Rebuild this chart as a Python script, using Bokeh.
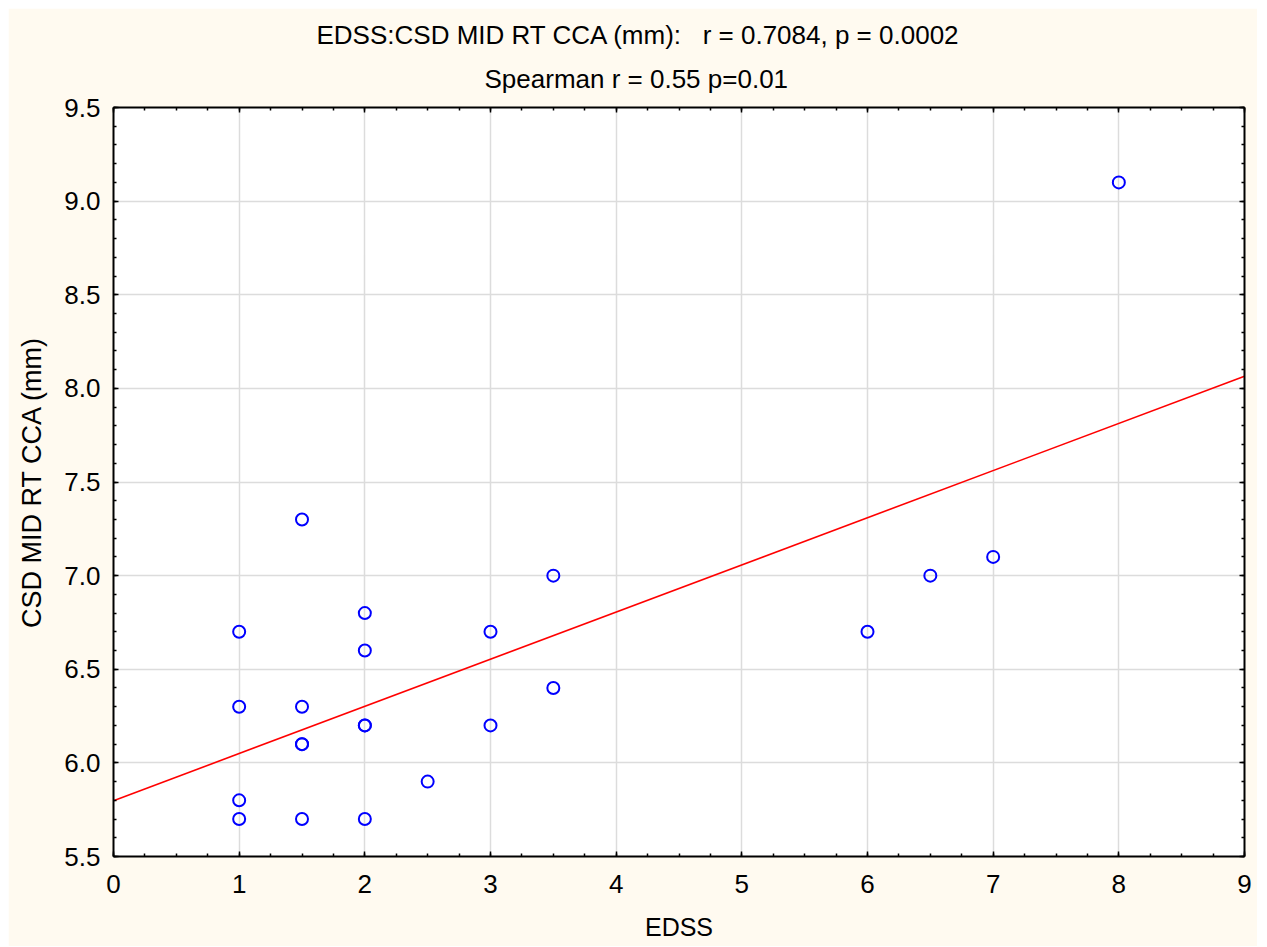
import numpy as np
from bokeh.plotting import figure
from bokeh.models import (LinearAxis, Title, SingleIntervalTicker,
                          CustomJSTickFormatter, PrintfTickFormatter, Range1d)
from bokeh.embed import file_html
from bokeh.resources import INLINE

# ---- data ----
edss = [1, 1, 1, 1,
        1.5, 1.5, 1.5, 1.5, 1.5,
        2, 2, 2, 2, 2,
        2.5,
        3, 3,
        3.5, 3.5,
        6, 6.5, 7, 8]
csd = [6.7, 6.3, 5.8, 5.7,
       7.3, 6.3, 6.1, 6.1, 5.7,
       6.8, 6.6, 6.2, 6.2, 5.7,
       5.9,
       6.7, 6.2,
       7.0, 6.4,
       6.7, 7.0, 7.1, 9.1]
x_limits = [0, 9]
y_limits = [5.5, 9.5]
title_line1 = "EDSS:CSD MID RT CCA (mm):\u00a0\u00a0 r = 0.7084, p = 0.0002"
title_line2 = "Spearman r = 0.55 p=0.01"
x_label = "EDSS"
y_label = "CSD MID RT CCA (mm)"

FONT = "Liberation Sans"
BG = "#FFFAF0"

slope, intercept = np.polyfit(edss, csd, 1)
fit_x = np.array(x_limits, dtype=float)
fit_y = intercept + slope * fit_x

p = figure(width=1249, height=938, output_backend="svg", toolbar_location=None,
           x_range=Range1d(*x_limits), y_range=Range1d(*y_limits),
           min_border_left=105, min_border_right=13, min_border_top=99,
           min_border_bottom=90)
p.margin = (8, 10, 1, 8)
p.background_fill_color = "white"
p.border_fill_color = BG
p.outline_line_color = None

xt = SingleIntervalTicker(interval=1, num_minor_ticks=4)
yt = SingleIntervalTicker(interval=0.5, num_minor_ticks=5)

def style_axis(ax, ticker, labels=True):
    ax.ticker = ticker
    ax.axis_line_color = "black"
    ax.axis_line_width = 2
    ax.major_tick_in = 5
    ax.major_tick_out = 0
    ax.minor_tick_in = 3
    ax.minor_tick_out = 0
    ax.major_tick_line_color = "black"
    ax.major_tick_line_width = 1.5
    ax.minor_tick_line_color = "black"
    ax.minor_tick_line_width = 1.5
    ax.major_label_text_font = FONT
    ax.major_label_text_font_size = "26px"
    ax.major_label_text_color = "black"
    ax.axis_label_text_font = FONT
    ax.axis_label_text_font_style = "normal"
    ax.axis_label_text_color = "black"
    if not labels:
        ax.formatter = CustomJSTickFormatter(code="return ''")
        ax.major_label_standoff = 0

# bottom / left axes
xa = p.xaxis[0]
style_axis(xa, xt)
xa.formatter = PrintfTickFormatter(format="%d")
xa.major_label_standoff = 18
xa.axis_label = x_label
xa.axis_label_text_font_size = "25px"
xa.axis_label_standoff = 17

ya = p.yaxis[0]
style_axis(ya, yt)
ya.formatter = PrintfTickFormatter(format="%.1f")
ya.major_label_standoff = 13
ya.axis_label = y_label
ya.axis_label_text_font_size = "27px"
ya.axis_label_standoff = 14

# top / right axes (ticks only)
top = LinearAxis()
style_axis(top, xt, labels=False)
p.add_layout(top, "above")
right = LinearAxis()
style_axis(right, yt, labels=False)
p.add_layout(right, "right")

p.xgrid.ticker = xt
p.ygrid.ticker = yt
for g in (p.xgrid[0], p.ygrid[0]):
    g.grid_line_color = "#dcdcdc"
    g.grid_line_width = 1.5

# regression line
p.line(fit_x, fit_y, line_color="#FF0000", line_width=1.6)

# points
p.scatter(edss, csd, marker="circle", size=12, fill_color=None,
          line_color="#0000FF", line_width=2)

# title lines (line 2 first: nearest to the plot)
for txt, off, st in ((title_line2, 371, 27), (title_line1, 203, -3)):
    p.add_layout(Title(text=txt, align="left", offset=off, standoff=st,
                       text_font=FONT, text_font_size="26px",
                       text_font_style="normal", text_color="black"), "above")

open("out.html", "w").write(file_html(p, INLINE))
